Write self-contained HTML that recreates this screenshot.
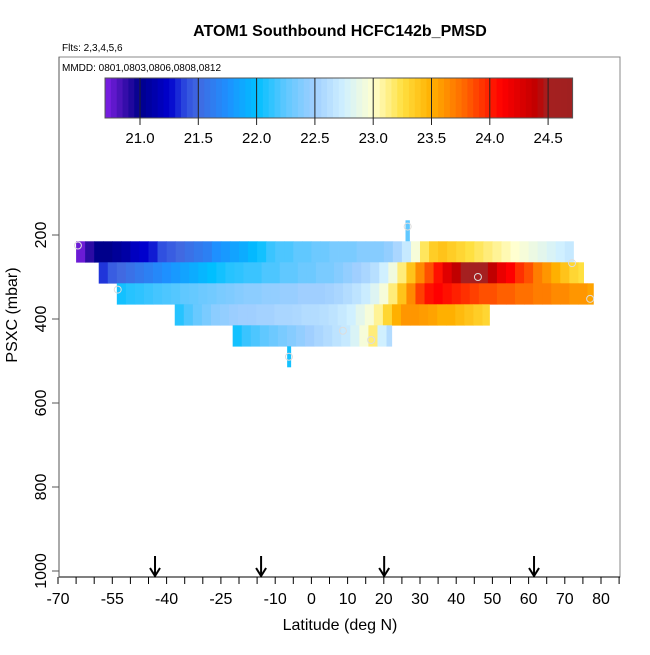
<!DOCTYPE html>
<html><head><meta charset="utf-8"><style>
body{margin:0;background:#fff;font-family:"Liberation Sans",Arial,sans-serif}
svg text{font-family:"Liberation Sans",Arial,sans-serif}
</style></head><body>
<svg id="chart" width="650" height="650" viewBox="0 0 650 650" xmlns="http://www.w3.org/2000/svg">
<rect width="650" height="650" fill="#fff"/>
<text x="340" y="36" text-anchor="middle" font-size="16" font-weight="bold">ATOM1 Southbound HCFC142b_PMSD</text>
<text x="62" y="51" font-size="10">Flts: 2,3,4,5,6</text>
<rect x="59" y="57" width="561" height="520" fill="none" stroke="#888" stroke-width="1"/>
<text x="62" y="71" font-size="10">MMDD: 0801,0803,0806,0808,0812</text>
<g id="cbar"></g>
<g id="cells"></g>
<g id="marks"></g>
<g id="axes"></g>
<text x="340" y="630" text-anchor="middle" font-size="16">Latitude (deg N)</text>
<text transform="translate(17,315) rotate(-90)" text-anchor="middle" font-size="16">PSXC (mbar)</text>
</svg>
<script>
const xTicks=[-70,-55,-40,-25,-10,0,10,20,30,40,50,60,70,80];
const yTicks=[200,400,600,800,1000];
const cbTicks=[21.0,21.5,22.0,22.5,23.0,23.5,24.0,24.5];
const arrowLats=[-43.2,-13.9,20.1,61.5];
const rowPress=[240,290,340,390,440];
const rowStart=[-65,-58.75,-53.75,-37.75,-21.75];
const rowEnd=[72.5,75.3,78,49.3,22.3];
const row1=[20.75,20.9,21.0,21.0,21.05,21.1,21.2,21.25,21.3,21.4,21.45,21.5,21.55,21.6,21.65,21.75,21.8,21.85,21.9,21.97,22.05,22.15,22.2,22.2,22.25,22.25,22.3,22.3,22.35,22.35,22.35,22.4,22.4,22.4,22.45,22.55,22.7,22.95,23.2,23.35,23.4,23.35,23.3,23.25,23.2,23.15,23.1,23.05,23.0,22.95,22.9,22.85,22.8,22.75,22.7];
const row2=[21.35,21.45,21.5,21.55,21.6,21.65,21.7,21.75,21.8,21.85,21.9,21.95,22.0,22.05,22.1,22.12,22.15,22.15,22.2,22.2,22.25,22.25,22.3,22.3,22.35,22.35,22.4,22.45,22.5,22.55,22.62,22.75,22.92,23.15,23.4,23.65,23.85,24.05,24.25,24.4,24.5,24.55,24.5,24.4,24.2,24.1,23.95,23.85,23.7,23.6,23.5,23.4,23.3,23.25];
const row3=[22.05,22.1,22.12,22.15,22.18,22.2,22.22,22.25,22.27,22.3,22.32,22.35,22.37,22.4,22.42,22.42,22.45,22.45,22.47,22.47,22.5,22.5,22.5,22.52,22.55,22.6,22.65,22.72,22.82,22.95,23.15,23.4,23.65,23.9,24.05,24.1,24.05,24.0,23.95,23.9,23.85,23.85,23.8,23.8,23.75,23.75,23.7,23.7,23.65,23.65,23.6,23.6,23.55];
const row4=[22.1,22.2,22.28,22.35,22.42,22.45,22.48,22.5,22.5,22.52,22.52,22.55,22.55,22.57,22.6,22.6,22.62,22.65,22.7,22.75,22.85,22.95,23.1,23.3,23.5,23.6,23.6,23.58,23.55,23.5,23.5,23.45,23.4,23.35,23.3];
const row5=[22.05,22.15,22.2,22.25,22.3,22.35,22.4,22.45,22.5,22.55,22.6,22.65,22.7,22.8,22.95,23.15,22.75,22.6];
const rows=[row1,row2,row3,row4,row5];
const stripLat=[26,-6.7];
const stripLatEnd=[27.2,-5.6];
const stripP=[190,490];
const stripVal=[22.25,22.05];
const circLat=[-64.5,72,46,-53.5,77,8.7,16.5,26.6,-6.2];
const circP=[225,267,300,330,352,428,450,180,490];
const stepLat=2.5, rowHalf=25;

const NS="http://www.w3.org/2000/svg";
function X(lat){return 58+(lat+70)*3.62;}
function Y(p){return 151+p*0.42;}
function CB(v){return 140+(v-21.0)*116.6;}
const stops=[[20.7,[128,32,232]],[20.85,[64,16,176]],[21.0,[0,0,139]],[21.25,[0,0,205]],[21.4,[48,80,224]],[21.5,[65,105,225]],[21.75,[30,144,255]],[22.0,[0,191,255]],[22.25,[96,200,255]],[22.5,[160,207,255]],[22.75,[208,240,255]],[23.0,[255,255,208]],[23.25,[255,224,64]],[23.5,[255,176,0]],[23.75,[255,112,0]],[24.0,[255,32,0]],[24.1,[255,0,0]],[24.4,[192,0,0]],[24.5,[165,32,32]],[24.7,[160,32,32]]];
function col(v){
  if(v<=stops[0][0])return 'rgb('+stops[0][1]+')';
  for(let i=1;i<stops.length;i++){if(v<=stops[i][0]){const a=stops[i-1],b=stops[i];const t=(v-a[0])/(b[0]-a[0]);return 'rgb('+a[1].map((c,k)=>Math.round(c+(b[1][k]-c)*t)).join(',')+')';}}
  return 'rgb('+stops[stops.length-1][1]+')';
}
function mk(tag,attrs,parent){const e=document.createElementNS(NS,tag);for(const k in attrs)e.setAttribute(k,attrs[k]);parent.appendChild(e);return e;}

// colorbar
const cb=document.getElementById('cbar');
const cbMin=20.7,cbMax=24.71;
const nSteps=80;
for(let i=0;i<nSteps;i++){
  const v0=cbMin+(cbMax-cbMin)*i/nSteps, v1=cbMin+(cbMax-cbMin)*(i+1)/nSteps;
  const w=CB(v1)-CB(v0)+(i<nSteps-1?0.6:0);
  const r=mk('rect',{x:CB(v0),y:78,width:w,height:40,fill:col((v0+v1)/2)},cb);
  
  
}
const cbf=mk('rect',{x:CB(cbMin),y:78,width:CB(cbMax)-CB(cbMin),height:40,fill:'none',stroke:'#555'},cb);


cbTicks.forEach(t=>{
  const x=CB(t);
  mk('line',{x1:x,x2:x,y1:78,y2:125,stroke:'#222','stroke-width':1},cb);
  const tx=mk('text',{x:x,y:143,'text-anchor':'middle','font-size':15},cb);
  tx.textContent=t.toFixed(1);
  
  
});

// cells
const cg=document.getElementById('cells');
rows.forEach((vals,ri)=>{
  const p=rowPress[ri];
  vals.forEach((v,i)=>{
    const l0=rowStart[ri]+i*stepLat;
    const l1=Math.min(l0+stepLat,rowEnd[ri]);
    const r=mk('rect',{x:X(l0),y:Y(p-rowHalf),width:X(l1)-X(l0)+(l1<rowEnd[ri]?0.4:0),height:Y(p+rowHalf)-Y(p-rowHalf)+0.3,fill:col(v)},cg);
    
    
  });
});
stripLat.forEach((l,i)=>{
  const r=mk('rect',{x:X(l),y:Y(stripP[i]-rowHalf),width:X(stripLatEnd[i])-X(l),height:Y(stripP[i]+rowHalf)-Y(stripP[i]-rowHalf),fill:col(stripVal[i])},cg);
  
  
});
const mg=document.getElementById('marks');
circLat.forEach((l,i)=>{
  const c=mk('circle',{cx:X(l),cy:Y(circP[i]),r:3.5,fill:'none',stroke:'#ddd','stroke-width':1},mg);
  
  
});

// axes
const ax=document.getElementById('axes');
mk('line',{x1:59,x2:620,y1:577,y2:577,stroke:'#000'},ax);
mk('line',{x1:59,x2:59,y1:57,y2:577,stroke:'#555'},ax);
for(let l=-70;l<=85;l+=5){mk('line',{x1:X(l),x2:X(l),y1:577,y2:584,stroke:'#000'},ax);}
xTicks.forEach(t=>{
  const tx=mk('text',{x:X(t),y:604,'text-anchor':'middle','font-size':16},ax);
  tx.textContent=t;
  
  
});
yTicks.forEach(t=>{
  const y=Y(t);
  mk('line',{x1:52,x2:59,y1:y,y2:y,stroke:'#555'},ax);
  const tx=mk('text',{'text-anchor':'middle','font-size':16,transform:'translate(46,'+y+') rotate(-90)'},ax);
  tx.textContent=t;
  
  
});
arrowLats.forEach(l=>{
  const x=X(l);
  const g=mk('g',{},ax);
  
  
  mk('line',{x1:x,x2:x,y1:556,y2:576,stroke:'#000','stroke-width':2},g);
  mk('polyline',{points:(x-5)+',568 '+x+',576 '+(x+5)+',568',fill:'none',stroke:'#000','stroke-width':2},g);
});
</script>
</body></html>
